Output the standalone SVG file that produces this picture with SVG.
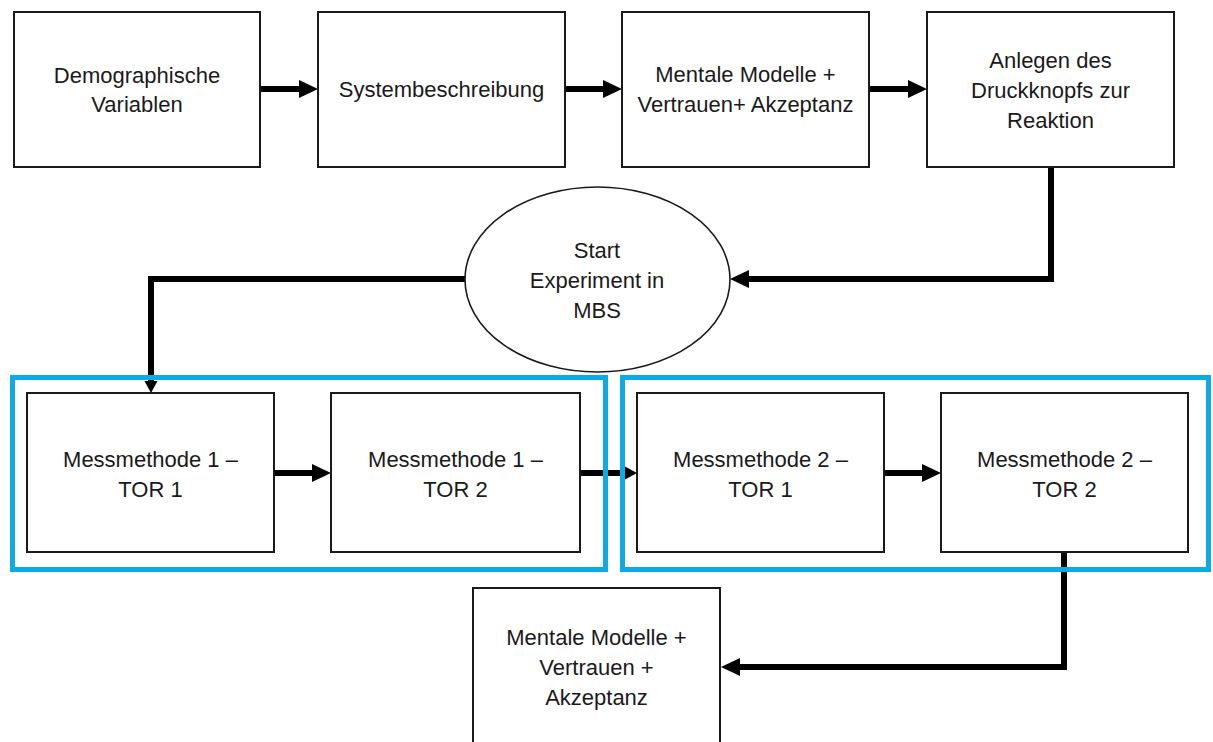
<svg xmlns="http://www.w3.org/2000/svg" width="1213" height="742" viewBox="0 0 1213 742">
<style>
.box{fill:#fff;stroke:#1a1a1a;stroke-width:2}
.ell{fill:#fff;stroke:#1a1a1a;stroke-width:1.6}
.frame{fill:none;stroke:#0DAAE4;stroke-width:5}
.t{font-family:"Liberation Sans",Arial,sans-serif;font-size:22px;fill:#1a1a1a;text-anchor:middle;dominant-baseline:central}
.c{fill:none;stroke:#000;stroke-width:6}
</style>
<defs>
<marker id="ah" markerUnits="userSpaceOnUse" markerWidth="20" markerHeight="20" refX="0" refY="9" orient="auto" overflow="visible">
<path d="M0,0 L19,9 L0,18 z" fill="#000"/>
</marker>
<marker id="as" markerUnits="userSpaceOnUse" markerWidth="14" markerHeight="14" refX="0" refY="6.5" orient="auto" overflow="visible">
<path d="M0,0 L12,6.5 L0,13 z" fill="#000"/>
</marker>
</defs>
<rect width="1213" height="742" fill="#fff"/>
<g id="connectors">
<line class="c" x1="260" y1="89" x2="299" y2="89" marker-end="url(#ah)"/>
<line class="c" x1="565" y1="89" x2="603" y2="89" marker-end="url(#ah)"/>
<line class="c" x1="869" y1="89" x2="908" y2="89" marker-end="url(#ah)"/>
<polyline class="c" points="1051,167 1051,279 749,279" marker-end="url(#ah)"/>
<polyline class="c" points="465,279 151,279 151,381" marker-end="url(#as)"/>
<line class="c" x1="274" y1="473" x2="312" y2="473" marker-end="url(#ah)"/>
<line class="c" x1="580" y1="473" x2="625" y2="473" marker-end="url(#as)"/>
<line class="c" x1="884" y1="473" x2="922" y2="473" marker-end="url(#ah)"/>
<polyline class="c" points="1064,552 1064,667 740,667" marker-end="url(#ah)"/>
</g>
<g id="frame1"><rect class="frame" x="12.5" y="377.5" width="593" height="192"/></g>
<g id="frame2"><rect class="frame" x="622.5" y="377.5" width="586" height="192"/></g>
<g id="n1"><rect class="box" x="14" y="12" width="246" height="155"/>
<text class="t" x="137" y="75">Demographische</text><text class="t" x="137" y="104">Variablen</text></g>
<g id="n2"><rect class="box" x="318" y="12" width="247" height="155"/>
<text class="t" x="441.5" y="89">Systembeschreibung</text></g>
<g id="n3"><rect class="box" x="622" y="12" width="247" height="155"/>
<text class="t" x="745.5" y="74">Mentale Modelle +</text><text class="t" x="745.5" y="104">Vertrauen+ Akzeptanz</text></g>
<g id="n4"><rect class="box" x="927" y="12" width="247" height="155"/>
<text class="t" x="1050.5" y="60">Anlegen des</text><text class="t" x="1050.5" y="90">Druckknopfs zur</text><text class="t" x="1050.5" y="120">Reaktion</text></g>
<g id="n5"><ellipse class="ell" cx="597.5" cy="279.5" rx="132.5" ry="92.5"/>
<text class="t" x="597" y="250">Start</text><text class="t" x="597" y="280">Experiment in</text><text class="t" x="597" y="310">MBS</text></g>
<g id="n6"><rect class="box" x="27" y="393" width="247" height="159"/>
<text class="t" x="150.5" y="459">Messmethode 1 –</text><text class="t" x="150.5" y="489">TOR 1</text></g>
<g id="n7"><rect class="box" x="331" y="393" width="249" height="159"/>
<text class="t" x="455.5" y="459">Messmethode 1 –</text><text class="t" x="455.5" y="489">TOR 2</text></g>
<g id="n8"><rect class="box" x="637" y="393" width="247" height="159"/>
<text class="t" x="760.5" y="459">Messmethode 2 –</text><text class="t" x="760.5" y="489">TOR 1</text></g>
<g id="n9"><rect class="box" x="941" y="393" width="247" height="159"/>
<text class="t" x="1064.5" y="459">Messmethode 2 –</text><text class="t" x="1064.5" y="489">TOR 2</text></g>
<g id="n10"><rect class="box" x="473" y="588" width="247" height="170"/>
<text class="t" x="596.5" y="637">Mentale Modelle +</text><text class="t" x="596.5" y="667">Vertrauen +</text><text class="t" x="596.5" y="697">Akzeptanz</text></g>
</svg>
